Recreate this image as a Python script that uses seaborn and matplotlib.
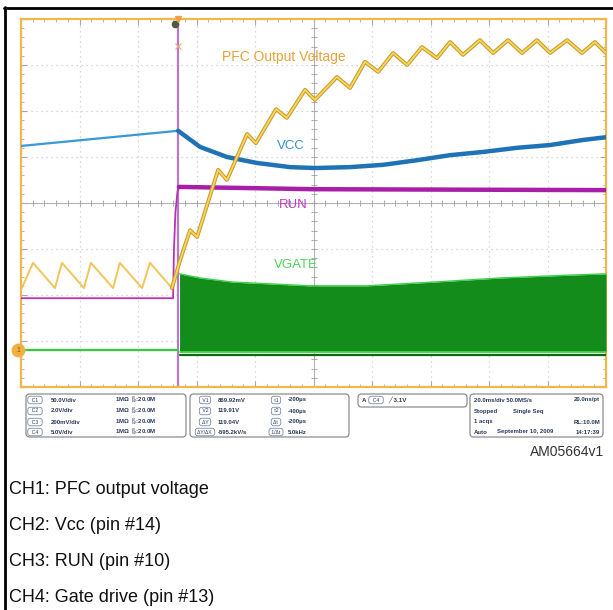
import numpy as np
import matplotlib
matplotlib.use("Agg")
import matplotlib.pyplot as plt
import seaborn as sns
from matplotlib.patches import FancyBboxPatch
from matplotlib.lines import Line2D

# time in ms (20 ms/div, 10 div on screen), levels in screen divisions (0 = bottom, 8 = top)
pfc_pre_t = [0, 4.1, 11.6, 14.0, 21.5, 23.9, 31.5, 33.8, 41.4, 44.1, 51.6]
pfc_pre_v = [2.11, 2.70, 2.15, 2.70, 2.15, 2.70, 2.15, 2.70, 2.15, 2.70, 2.15]
pfc_post_t = [51.6, 54.4, 57.8, 60.2, 67.4, 70.4, 77.3, 80.3, 87.2, 90.9, 97.1, 100.5,
              108.0, 112.5, 117.6, 122.1, 127.2, 132.0, 137.1, 142.2, 146.7, 151.1,
              156.9, 161.4, 166.5, 171.3, 176.4, 180.9, 186.7, 191.8, 196.2, 200]
pfc_post_v = [2.15, 2.76, 3.41, 3.26, 4.72, 4.50, 5.50, 5.30, 6.04, 5.85, 6.46, 6.24,
              6.74, 6.50, 7.07, 6.85, 7.26, 7.00, 7.39, 7.15, 7.50, 7.22,
              7.54, 7.26, 7.54, 7.26, 7.54, 7.26, 7.54, 7.26, 7.50, 7.26]

vcc_pre_t = [0, 53.7]
vcc_pre_v = [5.24, 5.57]
vcc_post_t = [53.7, 61.2, 70.4, 80.7, 92.0, 100.5, 112.5, 123.8, 135.4, 146.7, 158.0, 169.6, 180.9, 192.1, 200]
vcc_post_v = [5.57, 5.22, 5.00, 4.87, 4.78, 4.76, 4.78, 4.83, 4.93, 5.04, 5.11, 5.20, 5.26, 5.37, 5.43]

run_pre_t = [0, 52.0, 52.3, 52.8, 53.5, 54.0]
run_pre_v = [1.93, 1.93, 3.0, 3.8, 4.25, 4.33]
run_post_t = [54.0, 100, 150, 200]
run_post_v = [4.35, 4.30, 4.29, 4.28]

vg_pre_t = [0, 53.7]
vg_pre_v = [0.80, 0.80]
vg_top_t = [54.2, 61.2, 72.5, 98.8, 118.3, 140.9, 163.8, 186.7, 200]
vg_top_v = [2.46, 2.37, 2.28, 2.20, 2.20, 2.28, 2.37, 2.43, 2.46]
vg_low = 0.76
trigger_t = 53.7

ch_rows = [("C1", "50.0V/div"), ("C2", "2.0V/div"), ("C3", "200mV/div"), ("C4", "5.0V/div")]
meas_rows = [("V1", "869.92mV", "t1", "-200µs"), ("V2", "119.91V", "t2", "-400µs"),
             ("ΔY", "119.04V", "Δt", "-200µs"), ("ΔY/ΔX", "-595.2kV/s", "1/Δt", "5.0kHz")]
acq_rows = [("20.0ms/div 50.0MS/s", "", "20.0ns/pt"), ("Stopped", "Single Seq", ""),
            ("1 acqs", "", "RL:10.0M"), ("Auto", "September 10, 2009", "14:17:39")]
captions = ["CH1: PFC output voltage", "CH2: Vcc (pin #14)", "CH3: RUN (pin #10)", "CH4: Gate drive (pin #13)"]

sns.set_style("white")
plt.rcParams['font.family'] = ['Liberation Sans', 'DejaVu Sans']

W, H = 613, 610
fig = plt.figure(figsize=(W / 100, H / 100), dpi=100)


def fx(x):
    return x / W


def fy(y):
    return 1 - y / H


ax = fig.add_axes([fx(21), fy(387), (606 - 21) / W, (387 - 19) / H])
ax.set_xlim(0, 200)
ax.set_ylim(0, 8)

# graticule
ax.set_xticks(np.arange(0, 201, 20))
ax.set_yticks(np.arange(0, 8.01, 1))
ax.set_xticks(np.arange(0, 201, 4), minor=True)
ax.set_yticks(np.arange(0, 8.01, 0.2), minor=True)
ax.grid(True, which='major', color='#cccccc', ls=(0, (1, 3)), lw=0.9)
ax.tick_params(which='both', direction='in', top=True, right=True, bottom=True, left=True,
               labelbottom=False, labelleft=False, color='#a8a8a8')
ax.tick_params(which='major', length=4, width=0.8)
ax.tick_params(which='minor', length=2.5, width=0.6)
for s in ax.spines.values():
    s.set_color('#f0b848')
    s.set_linewidth(1.6)
ax.axhline(4, color='#b4b4b4', lw=0.8, zorder=1)
ax.axvline(100, color='#b4b4b4', lw=0.8, zorder=1)
ax.plot(np.arange(0, 201, 4), np.full(51, 4.0), ls='none', marker='|', ms=4, mew=0.6, color='#a0a0a0')
ax.plot(np.full(41, 100.0), np.arange(0, 8.01, 0.2), ls='none', marker='_', ms=4, mew=0.6, color='#a0a0a0')

# trigger cursor
ax.axvline(trigger_t, color='#b878c8', lw=1.6, zorder=2)

# VGATE
ax.fill_between(vg_top_t, vg_low, vg_top_v, color='#138c1b', lw=0, zorder=3)
sns.lineplot(x=vg_top_t, y=vg_top_v, ax=ax, color='#3ecf4c', lw=1.0, sort=False, estimator=None, zorder=4)
ax.plot([vg_top_t[0], 200], [vg_low - 0.06, vg_low - 0.06], color='#0b6a12', lw=1.6, zorder=3)
ax.plot([vg_top_t[0], 200], [vg_low, vg_low], color='#45d84a', lw=1.2, zorder=4)
sns.lineplot(x=vg_pre_t, y=vg_pre_v, ax=ax, color='#3cc83c', lw=1.6, sort=False, estimator=None, zorder=4)

# RUN
sns.lineplot(x=run_pre_t, y=run_pre_v, ax=ax, color='#b832b8', lw=1.3, sort=False, estimator=None, zorder=5)
sns.lineplot(x=run_post_t, y=run_post_v, ax=ax, color='#a81ea8', lw=3.2, sort=False, estimator=None, zorder=5)

# VCC
sns.lineplot(x=vcc_pre_t, y=vcc_pre_v, ax=ax, color='#3a98d8', lw=1.6, sort=False, estimator=None, zorder=5)
sns.lineplot(x=vcc_post_t, y=vcc_post_v, ax=ax, color='#1f72b4', lw=3.2, sort=False, estimator=None, zorder=5)

# PFC output voltage
sns.lineplot(x=pfc_pre_t, y=pfc_pre_v, ax=ax, color='#f2c45a', lw=1.4, sort=False, estimator=None, zorder=6)
sns.lineplot(x=pfc_post_t, y=pfc_post_v, ax=ax, color='#c89a3a', lw=2.8, sort=False, estimator=None,
             zorder=6, solid_joinstyle='round')
sns.lineplot(x=pfc_post_t, y=pfc_post_v, ax=ax, color='#f8d850', lw=1.3, sort=False, estimator=None,
             zorder=7, solid_joinstyle='round')
ax.set_xlabel("")
ax.set_ylabel("")

# trace labels
ax.text(89.9, 7.17, "PFC Output Voltage", color='#e8a23a', fontsize=10, ha='center', va='center', zorder=8)
ax.text(92.3, 5.24, "VCC", color='#3a90c8', fontsize=9.5, ha='center', va='center', zorder=8)
ax.text(93.0, 3.96, "RUN", color='#c03cc0', fontsize=9.5, ha='center', va='center', zorder=8)
ax.text(94.0, 2.65, "VGATE", color='#4ed35c', fontsize=9.5, ha='center', va='center', zorder=8)

# markers
ax.plot(trigger_t - 1.0, 7.89, 'o', color='#4e5a3c', ms=4.5, zorder=9)
ax.plot(trigger_t, 7.41, 'x', color='#f0a878', ms=5, mew=0.8, zorder=9)
ax.plot(trigger_t, 8.0, 'v', color='#f0a040', ms=4, zorder=9, clip_on=False)
ax.plot(-1.0, 0.80, 'o', color='#f0b040', ms=9, zorder=9, clip_on=False)
ax.text(-1.0, 0.80, "1", color='#8a5a10', fontsize=5, ha='center', va='center', zorder=10, clip_on=False)

# info panels
txt_col = '#2a3858'


def panel(x0, y0, x1, y1):
    fig.add_artist(FancyBboxPatch((fx(x0), fy(y1)), fx(x1 - x0), (y1 - y0) / H,
                                  boxstyle='round,pad=0,rounding_size=0.006',
                                  transform=fig.transFigure, fc='white', ec='#8c8c8c', lw=0.9))


def pill(x, y, s):
    fig.text(fx(x), fy(y), s, fontsize=3.6, color=txt_col, ha='center', va='center',
             bbox=dict(boxstyle='round,pad=0.25,rounding_size=0.5', fc='white', ec='#7a88a8', lw=0.6))


row_y = [400, 411, 422, 432]
panel(26, 394, 186, 437)
for (c, v), y in zip(ch_rows, row_y):
    pill(35, y, "  " + c + "  ")
    fig.text(fx(51), fy(y), v, fontsize=4.3, color=txt_col, va='center', weight='bold')
    fig.text(fx(115), fy(y), "1MΩ  $^{B}_{W}$:20.0M", fontsize=4.3, color=txt_col, va='center', weight='bold')

panel(190, 394, 349, 437)
for (a, b, c, d), y in zip(meas_rows, row_y):
    pill(205, y, " " + a + " ")
    fig.text(fx(218), fy(y), b, fontsize=4.3, color=txt_col, va='center', weight='bold')
    pill(276, y, " " + c + " ")
    fig.text(fx(288), fy(y), d, fontsize=4.3, color=txt_col, va='center', weight='bold')

panel(358, 394, 467, 407)
fig.text(fx(362), fy(400), "A", fontsize=4.5, color=txt_col, va='center', weight='bold')
pill(376, 400, "  C4  ")
fig.text(fx(388), fy(400), "╱ 3.1V", fontsize=4.5, color=txt_col, va='center', weight='bold')

panel(470, 394, 603, 437)
for (a, b, c), y in zip(acq_rows, row_y):
    fig.text(fx(474), fy(y), a, fontsize=4.3, color=txt_col, va='center', weight='bold')
    if b:
        fig.text(fx(513 if a == "Stopped" else 497), fy(y), b, fontsize=4.3, color=txt_col, va='center', weight='bold')
    if c:
        fig.text(fx(600), fy(y), c, fontsize=4.3, color=txt_col, va='center', ha='right', weight='bold')

fig.text(fx(604), fy(452), "AM05664v1", fontsize=10, color='#333333', ha='right', va='center')

for i, cap in enumerate(captions):
    fig.text(fx(9), fy(489 + i * 36), cap, fontsize=13, color='#111111', va='center')

# page frame
fig.add_artist(Line2D([fx(5), fx(5)], [0, fy(7)], transform=fig.transFigure, color='black', lw=2))
fig.add_artist(Line2D([fx(4), 1], [fy(7.5), fy(7.5)], transform=fig.transFigure, color='black', lw=2))

plt.savefig("out.png", dpi=100)
